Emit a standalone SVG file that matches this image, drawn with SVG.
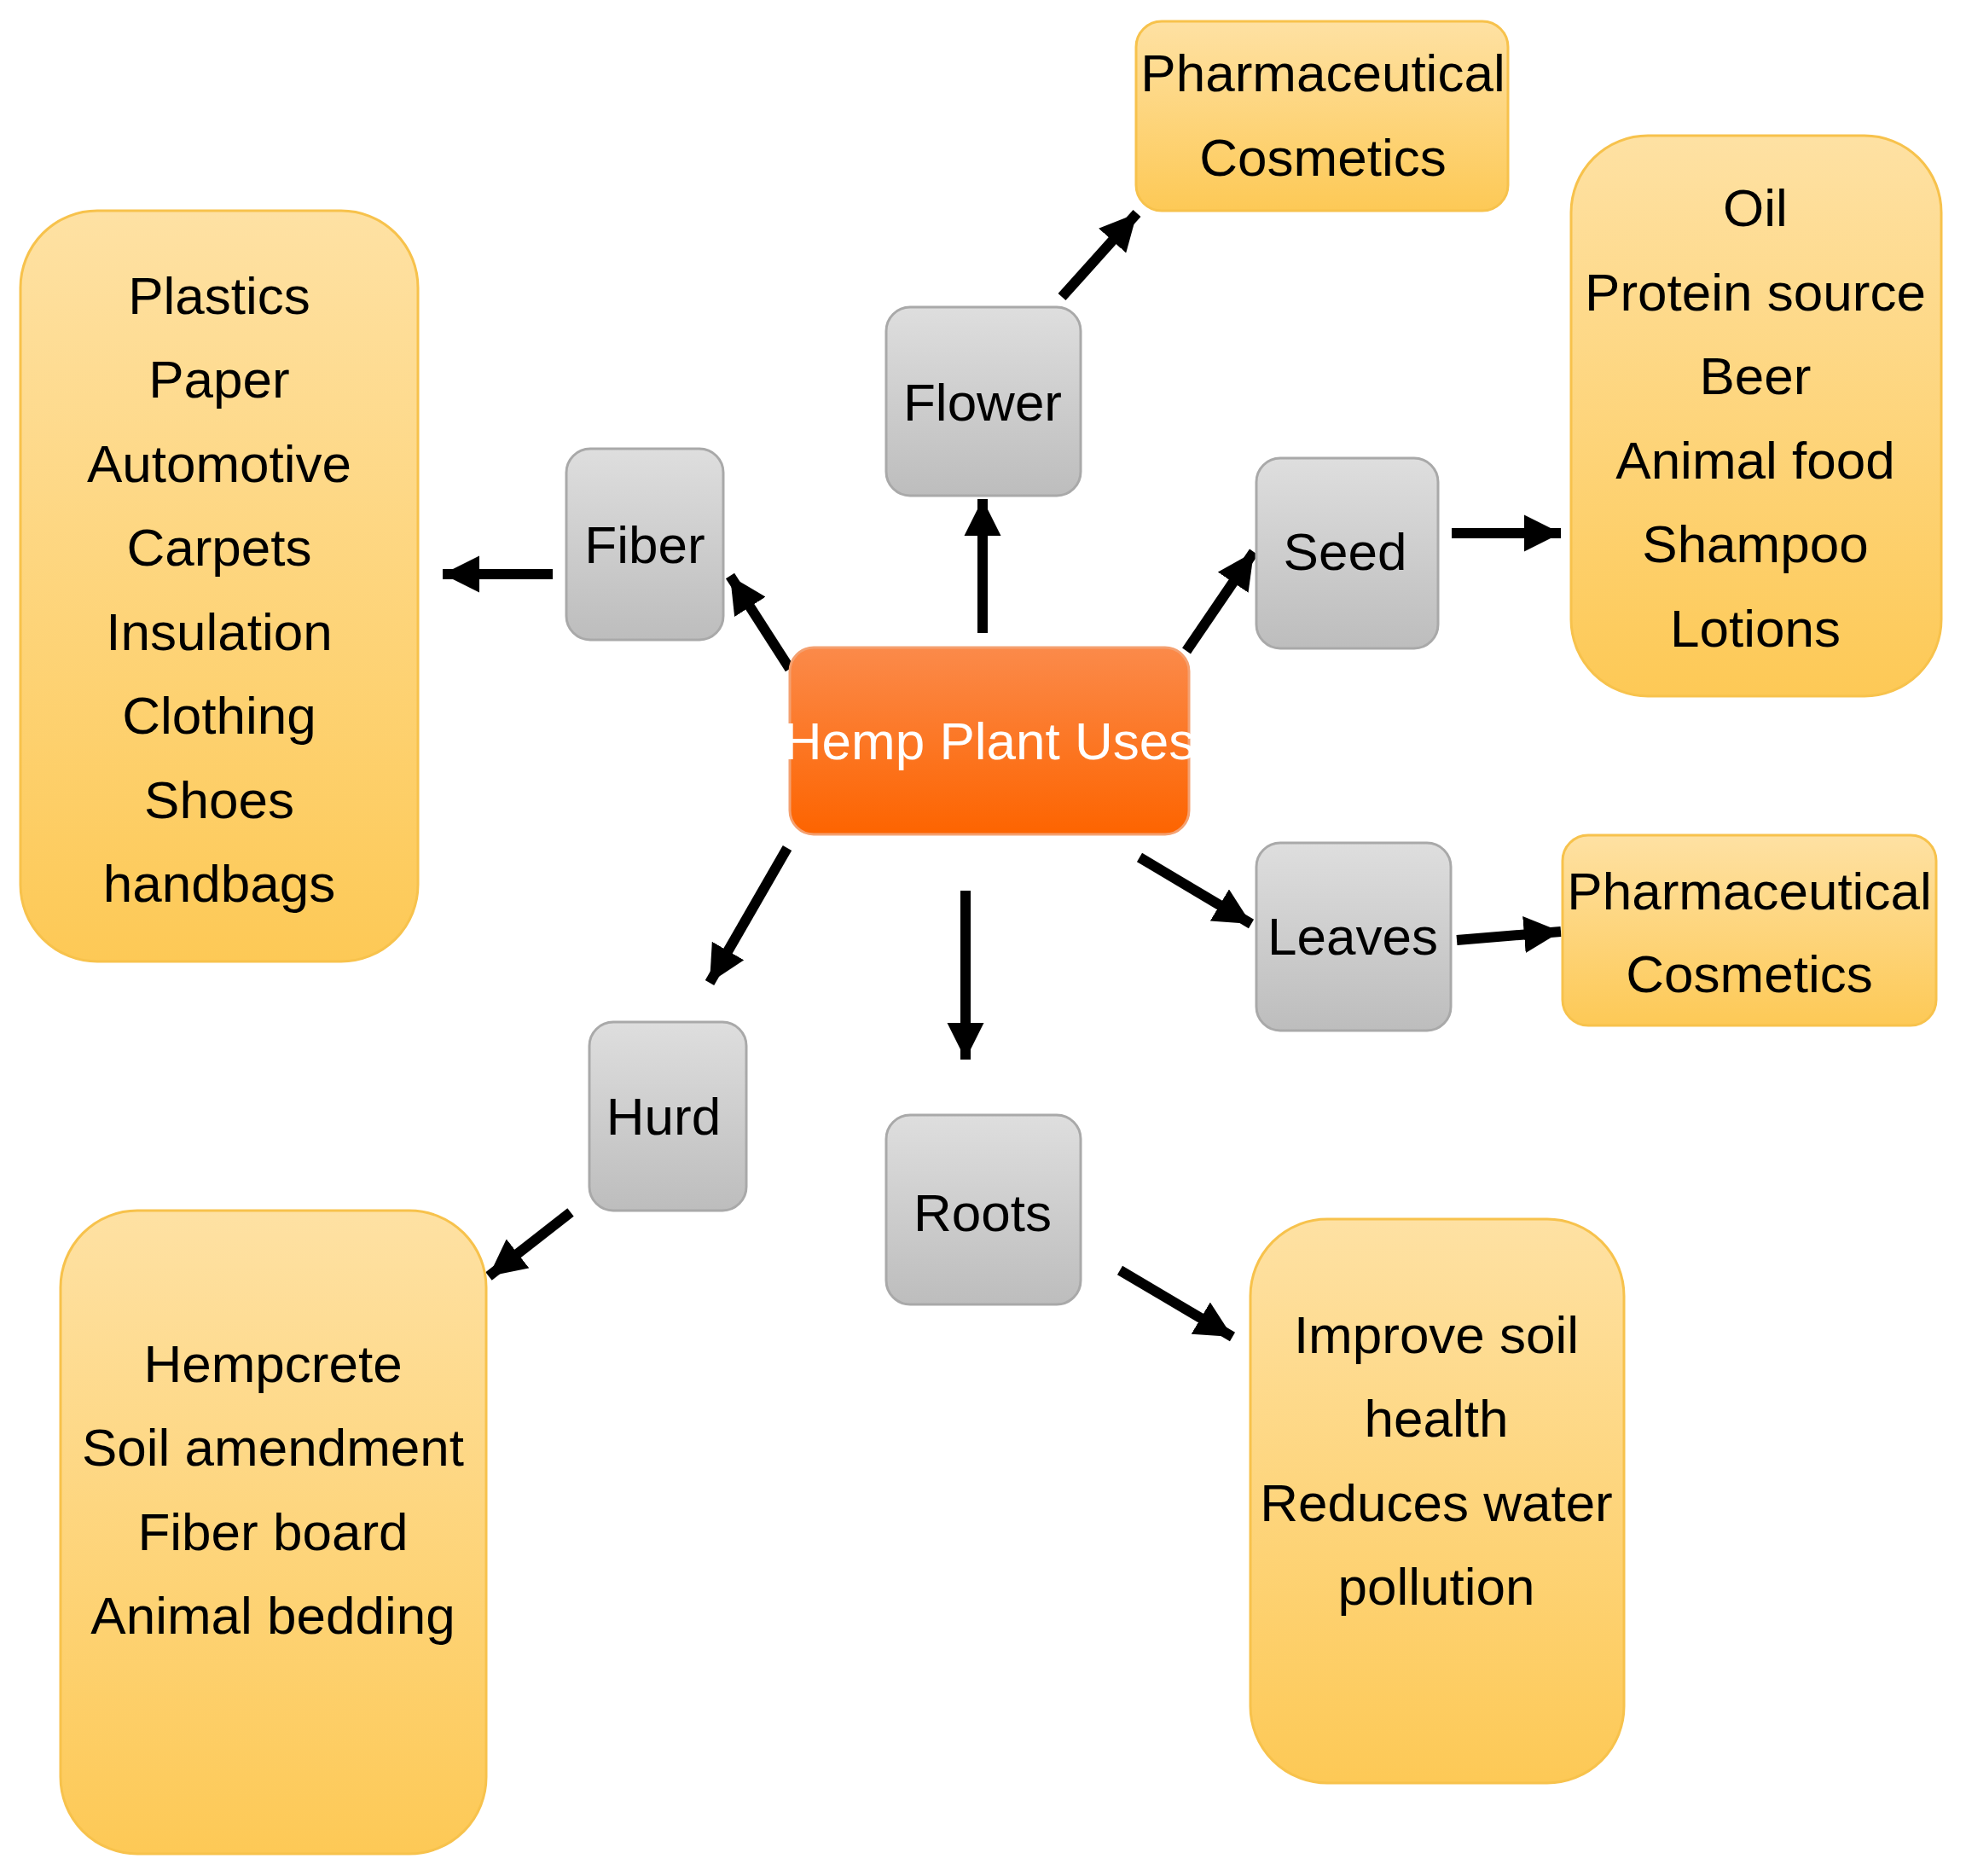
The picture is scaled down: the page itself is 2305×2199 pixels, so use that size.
<svg xmlns="http://www.w3.org/2000/svg" width="2305" height="2199" viewBox="0 0 2305 2199">
<defs>
<linearGradient id="gy" x1="0" y1="0" x2="0" y2="1"><stop offset="0" stop-color="#fee1a3"/><stop offset="1" stop-color="#fdc956"/></linearGradient>
<linearGradient id="gg" x1="0" y1="0" x2="0" y2="1"><stop offset="0" stop-color="#dedede"/><stop offset="1" stop-color="#bdbdbd"/></linearGradient>
<linearGradient id="go" x1="0" y1="0" x2="0" y2="1"><stop offset="0" stop-color="#fb8a4a"/><stop offset="1" stop-color="#fd6400"/></linearGradient>
<marker id="ah" viewBox="0 0 10 10" refX="10" refY="5" markerWidth="3.6" markerHeight="3.6" orient="auto" markerUnits="strokeWidth"><path d="M0,0 L10,5 L0,10 z" fill="#000"/></marker>
<style>
.y{fill:url(#gy);stroke:#f7c24c;stroke-width:3}
.g{fill:url(#gg);stroke:#a9a9a9;stroke-width:3}
.o{fill:url(#go);stroke:#f4a070;stroke-width:3}
text{font-family:"Liberation Sans Narrow","Liberation Sans",Arial,sans-serif;font-size:62px;fill:#000;text-anchor:middle}
.w{fill:#fff}
.c path{stroke:#000;stroke-width:12;fill:none;marker-end:url(#ah)}
</style>
</defs>
<g class="c" id="connectors">
<path d="M1245,348 L1333,250"/>
<path d="M1152,742 L1152,585"/>
<path d="M926,784 L856,675"/>
<path d="M648,673 L519,673"/>
<path d="M1391,763 L1470,647"/>
<path d="M1702,625 L1830,625"/>
<path d="M1336,1005 L1467,1083"/>
<path d="M1708,1102 L1830,1092"/>
<path d="M923,994 L832,1152"/>
<path d="M1132,1044 L1132,1242"/>
<path d="M669,1421 L573,1496"/>
<path d="M1313,1489 L1445,1567"/>
</g>
<g id="center"><rect class="o" x="926" y="759" width="468" height="219" rx="28"/><text class="w" x="1160" y="890">Hemp Plant Uses</text></g>
<g id="flower"><rect class="g" x="1039" y="360" width="228" height="221" rx="28"/><text x="1152" y="493">Flower</text></g>
<g id="fiber"><rect class="g" x="664" y="526" width="184" height="224" rx="28"/><text x="756" y="660">Fiber</text></g>
<g id="seed"><rect class="g" x="1473" y="537" width="213" height="223" rx="28"/><text x="1577" y="668">Seed</text></g>
<g id="leaves"><rect class="g" x="1473" y="988" width="228" height="220" rx="28"/><text x="1586" y="1119">Leaves</text></g>
<g id="hurd"><rect class="g" x="691" y="1198" width="184" height="221" rx="28"/><text x="778" y="1330">Hurd</text></g>
<g id="roots"><rect class="g" x="1039" y="1307" width="228" height="222" rx="28"/><text x="1152" y="1443">Roots</text></g>
<g id="pharm1"><rect class="y" x="1332" y="25" width="436" height="222" rx="30"/><text x="1551" y="107">Pharmaceutical</text><text x="1551" y="206">Cosmetics</text></g>
<g id="seedlist"><rect class="y" x="1842" y="159" width="434" height="657" rx="90"/>
<text x="2058" y="265">Oil</text><text x="2058" y="364">Protein source</text><text x="2058" y="462">Beer</text><text x="2058" y="561">Animal food</text><text x="2058" y="659">Shampoo</text><text x="2058" y="758">Lotions</text></g>
<g id="fiberlist"><rect class="y" x="24" y="247" width="466" height="880" rx="90"/>
<text x="257" y="368">Plastics</text><text x="257" y="466">Paper</text><text x="257" y="565">Automotive</text><text x="257" y="663">Carpets</text><text x="257" y="762">Insulation</text><text x="257" y="860">Clothing</text><text x="257" y="959">Shoes</text><text x="257" y="1057">handbags</text></g>
<g id="pharm2"><rect class="y" x="1832" y="979" width="438" height="223" rx="30"/><text x="2051" y="1066">Pharmaceutical</text><text x="2051" y="1163">Cosmetics</text></g>
<g id="hurdlist"><rect class="y" x="71" y="1419" width="499" height="754" rx="90"/>
<text x="320" y="1620">Hempcrete</text><text x="320" y="1718">Soil amendment</text><text x="320" y="1817">Fiber board</text><text x="320" y="1915">Animal bedding</text></g>
<g id="rootslist"><rect class="y" x="1466" y="1429" width="438" height="661" rx="90"/>
<text x="1684" y="1586">Improve soil</text><text x="1684" y="1684">health</text><text x="1684" y="1783">Reduces water</text><text x="1684" y="1881">pollution</text></g>
</svg>
